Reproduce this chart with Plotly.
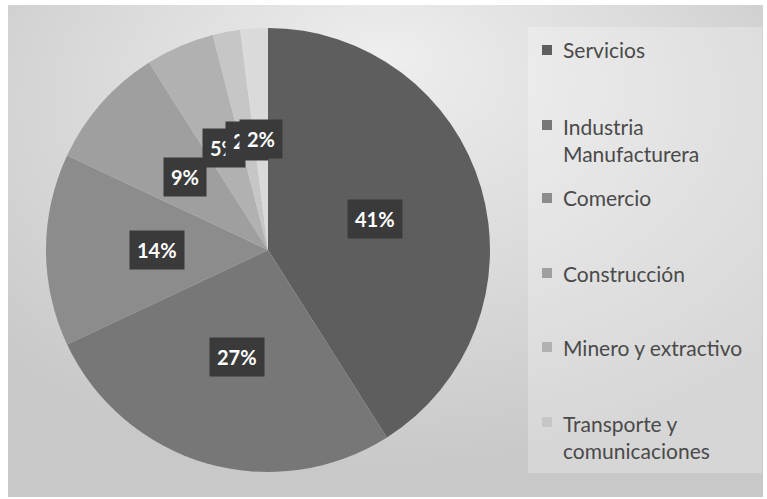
import base64
import math
import plotly.graph_objects as go

# Sector shares (percent) and their names
categories = ["Servicios", "Industria Manufacturera", "Comercio", "Construcción",
              "Minero y extractivo", "Transporte y comunicaciones", "Otros"]
shares = [41, 27, 14, 9, 5, 2, 2]
legend_labels = ["Servicios", "Industria<br>Manufacturera", "Comercio", "Construcción",
                 "Minero y extractivo", "Transporte y<br>comunicaciones"]

slice_colors = ["#5e5e5e", "#777777", "#8c8c8c", "#9f9f9f", "#b1b1b1", "#c6c6c6", "#dadada"]

W, H = 767, 499
# pie placement in pixels
cx, cy, R = 268, 250, 222
FONT = "Lato, 'Open Sans', sans-serif"

# soft radial backdrop as an inline SVG
svg = """<svg xmlns='http://www.w3.org/2000/svg' width='755' height='492' viewBox='0 0 755 492'>
<defs><radialGradient id='g' cx='0.5' cy='0.25' r='0.7' fx='0.5' fy='0.1'>
<stop offset='0' stop-color='#eeeeee'/><stop offset='0.5' stop-color='#dcdcdc'/>
<stop offset='1' stop-color='#c8c8c8'/></radialGradient></defs>
<rect width='755' height='492' fill='url(#g)'/></svg>"""
bg_src = "data:image/svg+xml;base64," + base64.b64encode(svg.encode()).decode()

fig = go.Figure()
fig.add_trace(go.Pie(
    labels=categories,
    values=shares,
    sort=False,
    direction="clockwise",
    rotation=0,
    marker=dict(colors=slice_colors, line=dict(width=0)),
    textinfo="none",
    hoverinfo="label+percent",
    showlegend=False,
    domain=dict(x=[(cx - R) / W, (cx + R) / W],
                y=[(H - cy - R) / H, (H - cy + R) / H]),
))

annotations = []
shapes = []

# value labels: dark boxes at half radius on each slice's mid-angle
total = sum(shares)
cum = 0
for v in shares:
    theta = 2 * math.pi * (cum + v / 2) / total
    cum += v
    px = cx + 0.5 * R * math.sin(theta)
    py = cy - 0.5 * R * math.cos(theta)
    annotations.append(dict(
        x=px / W, y=1 - py / H, xref="paper", yref="paper",
        text="<b>%d%%</b>" % v, showarrow=False,
        font=dict(family=FONT, size=20, color="white"),
        bgcolor="#3a3a3a", borderpad=7,
        xanchor="center", yanchor="middle",
    ))

# legend panel
shapes.append(dict(type="rect", xref="paper", yref="paper",
                   x0=528 / W, x1=762 / W, y0=1 - 473 / H, y1=1 - 27 / H,
                   fillcolor="rgba(255,255,255,0.25)", line=dict(width=0), layer="below"))
legend_y = [50, 140, 198, 273, 347, 437]
for lab, col, ly in zip(legend_labels, slice_colors, legend_y):
    top_line = ly if "<br>" not in lab else ly - 15
    shapes.append(dict(type="rect", xref="paper", yref="paper",
                       x0=542 / W, x1=552 / W,
                       y0=1 - (top_line + 5) / H, y1=1 - (top_line - 5) / H,
                       fillcolor=col, line=dict(width=0)))
    annotations.append(dict(
        x=561 / W, y=1 - ly / H, xref="paper", yref="paper",
        text=lab, showarrow=False, align="left",
        font=dict(family=FONT, size=21, color="#4a4a4a"),
        xanchor="left", yanchor="middle",
    ))

fig.update_layout(
    width=W, height=H,
    margin=dict(l=0, r=0, t=0, b=0),
    paper_bgcolor="white",
    plot_bgcolor="rgba(0,0,0,0)",
    images=[dict(source=bg_src, xref="paper", yref="paper",
                 x=8 / W, y=1 - 5 / H, sizex=755 / W, sizey=492 / H,
                 sizing="stretch", xanchor="left", yanchor="top", layer="below")],
    shapes=shapes,
    annotations=annotations,
    showlegend=False,
)

fig.write_html("out.html")
